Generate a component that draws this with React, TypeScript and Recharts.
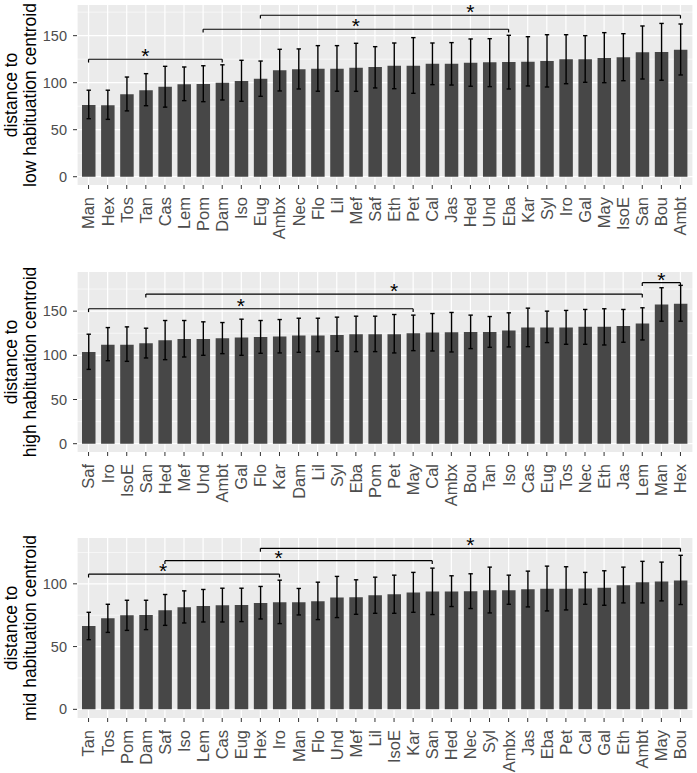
import React from 'react';
import { ComposedChart, Bar, ErrorBar, XAxis, YAxis, CartesianGrid, ReferenceLine } from 'recharts';

// Panel 1: distance to low habituation centroid
const lowCats = ['Man', 'Hex', 'Tos', 'Tan', 'Cas', 'Lem', 'Pom', 'Dam', 'Iso', 'Eug', 'Ambx', 'Nec', 'Flo', 'Lil', 'Mef', 'Saf', 'Eth', 'Pet', 'Cal', 'Jas', 'Hed', 'Und', 'Eba', 'Kar', 'Syl', 'Iro', 'Gal', 'May', 'IsoE', 'San', 'Bou', 'Ambt'];
const lowVals = [76.3, 76, 87.6, 92, 95.7, 98.3, 98.6, 100, 101.8, 104.3, 113.2, 114.2, 114.9, 114.9, 115.8, 116.7, 118, 118, 120.2, 120.2, 121.3, 121.6, 122, 122.3, 123, 124.9, 124.9, 126.3, 127, 132.3, 132.7, 135.1];
const lowLo = [61.7, 61, 70, 75.5, 74, 80.9, 79.8, 81.6, 80.2, 85.5, 91.2, 93.3, 90.9, 90.9, 90.8, 94.4, 93.6, 88.7, 97.9, 97.5, 96.2, 95.8, 93.3, 96.5, 95.4, 98.9, 100.4, 100, 102.1, 103.9, 102.6, 108.2];
const lowHi = [92, 92, 106, 109.6, 117.4, 116.7, 118, 119, 123.8, 123, 135.5, 135.9, 139.4, 139.4, 141.9, 138.3, 142.2, 147.9, 142.2, 142.6, 146.5, 146.8, 150.4, 148.9, 151, 151, 150, 153.2, 152.1, 160.3, 163, 162.4];
const lowBrackets = [
  { from: 'Man', to: 'Dam', y: 124.9 },
  { from: 'Pom', to: 'Eba', y: 156.8 },
  { from: 'Eug', to: 'Ambt', y: 171.7 },
];

// Panel 2: distance to high habituation centroid
const highCats = ['Saf', 'Iro', 'IsoE', 'San', 'Hed', 'Mef', 'Und', 'Ambt', 'Gal', 'Flo', 'Kar', 'Dam', 'Lil', 'Syl', 'Eba', 'Pom', 'Pet', 'May', 'Cal', 'Ambx', 'Bou', 'Tan', 'Iso', 'Cas', 'Eug', 'Tos', 'Nec', 'Eth', 'Jas', 'Lem', 'Man', 'Hex'];
const highVals = [103.8, 112.1, 112.1, 113.6, 117, 118.6, 118.6, 119.3, 120.1, 120.8, 121.2, 122.3, 122.3, 123.1, 123.9, 123.9, 123.9, 125, 125.8, 126.1, 126.5, 126.5, 128, 131.4, 131.4, 131.4, 132.2, 132.2, 133.3, 136, 157.6, 158.3];
const highLo = [84.1, 93.9, 93.2, 97, 95.1, 98.1, 100, 101.9, 100, 102.3, 102.7, 103.4, 104.2, 104.5, 104.2, 104.2, 102.7, 105.3, 104.9, 103.8, 107.6, 109.1, 109.5, 109.8, 114.4, 112.5, 112.5, 111.7, 114.8, 117.4, 138.6, 138.6];
const highHi = [123.9, 131.4, 132.2, 130.7, 139.4, 139.4, 137.9, 137.1, 140.9, 139.4, 140.5, 142, 142, 143.2, 144.3, 144.3, 146.2, 145.5, 147.3, 148.5, 145.5, 143.9, 148.1, 153.4, 150, 150.8, 151.9, 152.7, 151.9, 153.8, 176.5, 179.2];
const highBrackets = [
  { from: 'Saf', to: 'May', y: 152.7 },
  { from: 'San', to: 'Lem', y: 169.3 },
  { from: 'Lem', to: 'Hex', y: 182.2 },
];

// Panel 3: distance to mid habituation centroid
const midCats = ['Tan', 'Tos', 'Pom', 'Dam', 'Saf', 'Iso', 'Lem', 'Cas', 'Eug', 'Hex', 'Iro', 'Man', 'Flo', 'Und', 'Mef', 'Lil', 'IsoE', 'Kar', 'San', 'Hed', 'Nec', 'Syl', 'Ambx', 'Jas', 'Eba', 'Pet', 'Cal', 'Gal', 'Eth', 'Ambt', 'May', 'Bou'];
const midVals = [66.4, 72.5, 74.9, 75.2, 78.9, 81.3, 82.4, 82.9, 83.2, 84.8, 85.3, 85.3, 86.1, 89.1, 89.3, 90.9, 91.7, 93.1, 93.9, 93.9, 94.1, 94.9, 94.9, 95.7, 96, 96, 96.3, 96.8, 98.9, 101.3, 101.9, 102.7];
const midLo = [55.5, 61.3, 62.9, 63.5, 66.9, 68.8, 69.6, 69.6, 69.9, 72, 68.3, 75.2, 71.5, 73.1, 75.7, 76.5, 76.5, 77.3, 75.5, 81.9, 80.3, 76.8, 83.7, 81.6, 78.4, 79.2, 83.7, 82.9, 84.8, 84.8, 86.4, 83.5];
const midHi = [77.3, 83.7, 86.9, 86.9, 91.5, 94.4, 95.5, 96.5, 96.5, 97.9, 102.9, 96.3, 101.3, 105.9, 103.2, 105.3, 106.9, 109.1, 112.5, 106.4, 108, 113.3, 106.9, 110.1, 114.1, 113.6, 109.1, 110.4, 113.3, 117.9, 117.3, 122.7];
const midBrackets = [
  { from: 'Tan', to: 'Iro', y: 107.7 },
  { from: 'Saf', to: 'San', y: 118.4 },
  { from: 'Hex', to: 'Bou', y: 128.3 },
];

const FONT = 'Liberation Sans, Arial, sans-serif';
const BAR = '#474747';
const PANEL = '#EBEBEB';

const XTick = (props: any) => {
  const { x, y, payload } = props;
  return (
    <text
      x={x}
      y={y}
      dy="0.36em"
      transform={`rotate(-90, ${x}, ${y})`}
      textAnchor="end"
      fontSize={16.5}
      fontFamily={FONT}
      fill="#4D4D4D"
    >
      {payload.value}
    </text>
  );
};

const YTitle = (line1: string, line2: string) => (props: any) => {
  const { viewBox } = props;
  const cy = viewBox.y + viewBox.height / 2;
  return (
    <g fontFamily={FONT} fontSize={17.5} fill="#000">
      <text x={17} y={cy} transform={`rotate(-90, 17, ${cy})`} textAnchor="middle">{line1}</text>
      <text x={36} y={cy} transform={`rotate(-90, 36, ${cy})`} textAnchor="middle">{line2}</text>
    </g>
  );
};

const Star = (dx: number) => (props: any) => {
  const { viewBox } = props;
  const cx = viewBox.x + viewBox.width / 2 + dx;
  return (
    <text x={cx} y={viewBox.y + 4} textAnchor="middle" fontSize={21} fontFamily={FONT} fill="#000">*</text>
  );
};

type Bracket = { from: string; to: string; y: number };

function Panel({ cats, vals, lo, hi, domain, ticks, minor, title, brackets, starDx, drop }: {
  cats: string[]; vals: number[]; lo: number[]; hi: number[];
  domain: [number, number]; ticks: number[]; minor: number[];
  title: [string, string]; brackets: Bracket[]; starDx: number[]; drop: number;
}) {
  const data = cats.map((c, i) => ({ name: c, value: vals[i], err: [vals[i] - lo[i], hi[i] - vals[i]] }));
  return (
    <ComposedChart width={697} height={255} data={data} margin={{ top: 5, right: 4, bottom: 0, left: 0 }}>
      <CartesianGrid fill={PANEL} stroke="#fff" strokeWidth={0.6} vertical={false} horizontalValues={minor} />
      <CartesianGrid fill="none" stroke="#fff" strokeWidth={1.2} horizontalValues={ticks} />
      <XAxis
        dataKey="name"
        interval={0}
        height={70}
        padding={{ left: 2, right: 3 }}
        axisLine={false}
        tickSize={4}
        tickMargin={8}
        tickLine={{ stroke: '#333' }}
        tick={<XTick />}
      />
      <YAxis
        type="number"
        width={77}
        domain={domain}
        ticks={ticks}
        allowDataOverflow
        axisLine={false}
        tickSize={4}
        tickMargin={6}
        tickLine={{ stroke: '#333' }}
        tick={{ fontSize: 14.5, fill: '#4D4D4D', fontFamily: FONT }}
        label={{ content: YTitle(title[0], title[1]) }}
      />
      <Bar dataKey="value" fill={BAR} barSize={13.5} isAnimationActive={false}>
        <ErrorBar dataKey="err" width={2.2} stroke="#000" strokeWidth={1.4} isAnimationActive={false} />
      </Bar>
      {brackets.map((b, i) => (
        <ReferenceLine
          key={`b${i}`}
          segment={[{ x: b.from, y: b.y }, { x: b.to, y: b.y }]}
          stroke="#000"
          strokeWidth={1.2}
          ifOverflow="visible"
          label={{ content: Star(starDx[i]) }}
        />
      ))}
      {brackets.map((b, i) => (
        <ReferenceLine key={`l${i}`} segment={[{ x: b.from, y: b.y }, { x: b.from, y: b.y - drop }]} stroke="#000" strokeWidth={1.2} ifOverflow="visible" />
      ))}
      {brackets.map((b, i) => (
        <ReferenceLine key={`r${i}`} segment={[{ x: b.to, y: b.y }, { x: b.to, y: b.y - drop }]} stroke="#000" strokeWidth={1.2} ifOverflow="visible" />
      ))}
    </ComposedChart>
  );
}

export default function App() {
  return (
    <div style={{ position: 'absolute', left: 0, top: 0, width: 697, height: 773, background: '#fff' }}>
      <div style={{ position: 'absolute', left: 0, top: 0 }}>
        <Panel
          cats={lowCats} vals={lowVals} lo={lowLo} hi={lowHi}
          domain={[-8.8, 182.6]} ticks={[0, 50, 100, 150]} minor={[25, 75, 125, 175]}
          title={['distance to', 'low habituation centroid']}
          brackets={lowBrackets} starDx={[-10, 0, 0]} drop={3.5}
        />
      </div>
      <div style={{ position: 'absolute', left: 0, top: 267 }}>
        <Panel
          cats={highCats} vals={highVals} lo={highLo} hi={highHi}
          domain={[-9.4, 194.3]} ticks={[0, 50, 100, 150]} minor={[25, 75, 125, 175]}
          title={['distance to', 'high habituation centroid']}
          brackets={highBrackets} starDx={[-10, 0, 0]} drop={3.8}
        />
      </div>
      <div style={{ position: 'absolute', left: 0, top: 533 }}>
        <Panel
          cats={midCats} vals={midVals} lo={midLo} hi={midHi}
          domain={[-6.9, 136.5]} ticks={[0, 50, 100]} minor={[25, 75, 125]}
          title={['distance to', 'mid habituation centroid']}
          brackets={midBrackets} starDx={[-21, -20, 0]} drop={2.7}
        />
      </div>
    </div>
  );
}
